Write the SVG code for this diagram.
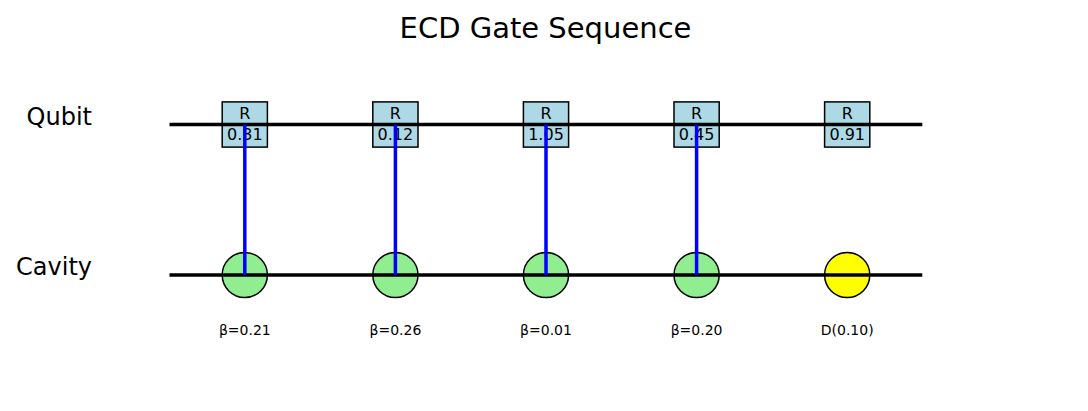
<svg xmlns="http://www.w3.org/2000/svg" width="1088" height="411" viewBox="0 0 1088 411">
<style>
text{font-family:"DejaVu Sans","Liberation Sans",sans-serif;fill:#000}
.wire{stroke:#000;stroke-width:3.5;fill:none}
.box{fill:#add8e6;stroke:#000;stroke-width:1.5}
.ecd{fill:#90ee90;stroke:#000;stroke-width:1.5}
.disp{fill:#ffff00;stroke:#000;stroke-width:1.5}
.link{stroke:#0000ff;stroke-width:3.5}
.gt{font-size:16px;text-anchor:middle}
.lbl{font-size:14px;text-anchor:middle}
.row{font-size:24px;text-anchor:end}
</style>
<rect width="1088" height="411" fill="#fff"/>
<text x="545.5" y="37.5" font-size="29" text-anchor="middle">ECD Gate Sequence</text>
<text class="row" x="92" y="125">Qubit</text>
<text class="row" x="92" y="275">Cavity</text>
<g id="boxes">
<rect class="box" x="222.2" y="101.9" width="45.2" height="45.2"/>
<rect class="box" x="372.8" y="101.9" width="45.2" height="45.2"/>
<rect class="box" x="523.4" y="101.9" width="45.2" height="45.2"/>
<rect class="box" x="674" y="101.9" width="45.2" height="45.2"/>
<rect class="box" x="824.6" y="101.9" width="45.2" height="45.2"/>
</g>
<g id="circles">
<circle class="ecd" cx="244.8" cy="275" r="22.6"/>
<circle class="ecd" cx="395.4" cy="275" r="22.6"/>
<circle class="ecd" cx="546" cy="275" r="22.6"/>
<circle class="ecd" cx="696.6" cy="275" r="22.6"/>
<circle class="disp" cx="847.2" cy="275" r="22.6"/>
</g>
<g id="wires">
<line class="wire" x1="169.5" y1="124.5" x2="922.3" y2="124.5"/>
<line class="wire" x1="169.5" y1="275" x2="922.3" y2="275"/>
</g>
<g id="gate1"><text class="gt" x="244.8" y="119">R</text><text class="gt" x="244.8" y="140">0.31</text><text class="lbl" x="244.8" y="335">β=0.21</text></g>
<g id="gate2"><text class="gt" x="395.4" y="119">R</text><text class="gt" x="395.4" y="140">0.12</text><text class="lbl" x="395.4" y="335">β=0.26</text></g>
<g id="gate3"><text class="gt" x="546" y="119">R</text><text class="gt" x="546" y="140">1.05</text><text class="lbl" x="546" y="335">β=0.01</text></g>
<g id="gate4"><text class="gt" x="696.6" y="119">R</text><text class="gt" x="696.6" y="140">0.45</text><text class="lbl" x="696.6" y="335">β=0.20</text></g>
<g id="gate5"><text class="gt" x="847.2" y="119">R</text><text class="gt" x="847.2" y="140">0.91</text><text class="lbl" x="847.2" y="335">D(0.10)</text></g>
<g id="connectors">
<line class="link" x1="244.8" y1="124.5" x2="244.8" y2="275"/>
<line class="link" x1="395.4" y1="124.5" x2="395.4" y2="275"/>
<line class="link" x1="546" y1="124.5" x2="546" y2="275"/>
<line class="link" x1="696.6" y1="124.5" x2="696.6" y2="275"/>
</g>
</svg>
